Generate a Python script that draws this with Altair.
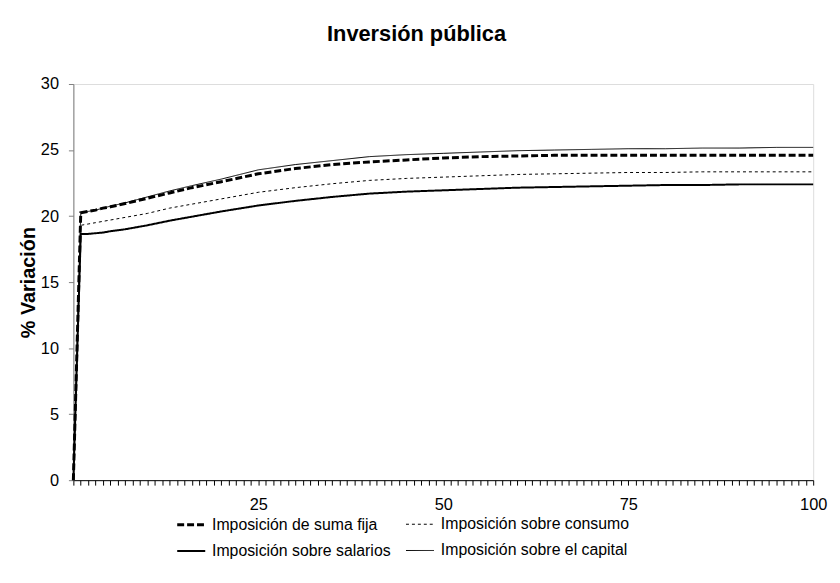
import altair as alt
import pandas as pd

periods = [0, 1, 2, 3, 4, 5, 7, 10, 13, 16, 20, 25, 30, 35, 40, 45, 50, 55, 60, 65, 70, 75, 80, 85, 90, 95, 100]

lump_sum = [0, 20.25, 20.35, 20.45, 20.6, 20.7, 20.95, 21.35, 21.75, 22.15, 22.6, 23.2, 23.6, 23.9, 24.1,
            24.25, 24.4, 24.5, 24.55, 24.6, 24.6, 24.6, 24.6, 24.6, 24.6, 24.6, 24.6]
consumption = [0, 19.3, 19.4, 19.5, 19.6, 19.7, 19.9, 20.2, 20.6, 20.9, 21.3, 21.8, 22.15, 22.45, 22.7,
               22.85, 22.95, 23.05, 23.15, 23.2, 23.25, 23.3, 23.3, 23.35, 23.35, 23.35, 23.35]
wages = [0, 18.65, 18.65, 18.7, 18.75, 18.85, 19.0, 19.3, 19.65, 19.95, 20.35, 20.8, 21.15, 21.45, 21.7,
         21.85, 21.95, 22.05, 22.15, 22.2, 22.25, 22.3, 22.35, 22.35, 22.4, 22.4, 22.4]
capital = [0, 20.25, 20.35, 20.45, 20.6, 20.75, 21.0, 21.45, 21.9, 22.3, 22.8, 23.5, 23.9, 24.2, 24.5,
           24.65, 24.75, 24.85, 24.95, 25.0, 25.05, 25.1, 25.1, 25.15, 25.15, 25.2, 25.2]

# legend entries are laid out column by column: col 1 = first two, col 2 = last two
series_names = ["Imposición de suma fija", "Imposición sobre salarios",
                "Imposición sobre consumo", "Imposición sobre el capital"]
series_values = [lump_sum, wages, consumption, capital]
dash_styles = [[7, 3], [1, 0], [3, 3], [1, 0]]
line_widths = [3, 2, 1, 1]

rows = []
for name, vals in zip(series_names, series_values):
    for p, v in zip(periods, vals):
        rows.append({"periodo": p, "valor": v, "serie": name})
df = pd.DataFrame(rows)

FONT = "Liberation Sans"

legend_opts = dict(title=None, orient="none", legendX=103, legendY=429, columns=2,
                   symbolType="stroke", symbolStrokeColor="black", symbolSize=800,
                   labelFont=FONT, labelFontSize=16, labelColor="black",
                   columnPadding=12, rowPadding=3, labelOffset=5, labelLimit=400)

chart = alt.Chart(df).mark_line(color="black", strokeCap="butt", strokeJoin="miter").encode(
    x=alt.X("periodo:Q",
            scale=alt.Scale(domain=[0, 100], nice=False, zero=True),
            axis=alt.Axis(values=list(range(0, 101)), title=None, grid=False,
                          labelExpr="(datum.value % 25 == 0 && datum.value > 0) ? datum.label : ''",
                          labelOverlap=False, labelFlush=False, tickSize=5, tickColor="black",
                          domainColor="black", labelPadding=12, labelFont=FONT, labelFontSize=16.5,
                          labelColor="black")),
    y=alt.Y("valor:Q",
            scale=alt.Scale(domain=[0, 30], nice=False),
            axis=alt.Axis(values=[0, 5, 10, 15, 20, 25, 30], title="% Variación", grid=False,
                          tickSize=5, tickColor="#808080", domainColor="#808080",
                          labelPadding=10, labelFont=FONT, labelFontSize=16.5, labelColor="black",
                          titleFont=FONT, titleFontSize=20, titleFontWeight="bold",
                          titleColor="black", titlePadding=2)),
    strokeDash=alt.StrokeDash("serie:N",
                              scale=alt.Scale(type="ordinal", domain=series_names, range=dash_styles),
                              legend=alt.Legend(**legend_opts)),
    strokeWidth=alt.StrokeWidth("serie:N",
                                scale=alt.Scale(type="ordinal", domain=series_names, range=line_widths),
                                legend=alt.Legend(**legend_opts)),
    detail="serie:N",
).properties(
    width=747,
    height=400,
    title=alt.TitleParams("Inversión pública", font=FONT, fontSize=22, fontWeight="bold",
                          color="black", anchor="middle", offset=30, dx=-27),
    autosize=alt.AutoSizeParams(type="none"),
    padding={"left": 66, "top": 74, "right": 19, "bottom": 93},
).configure_view(stroke=None).configure(background="white")

chart.save("out.html", embed_options={"renderer": "svg", "actions": False})
